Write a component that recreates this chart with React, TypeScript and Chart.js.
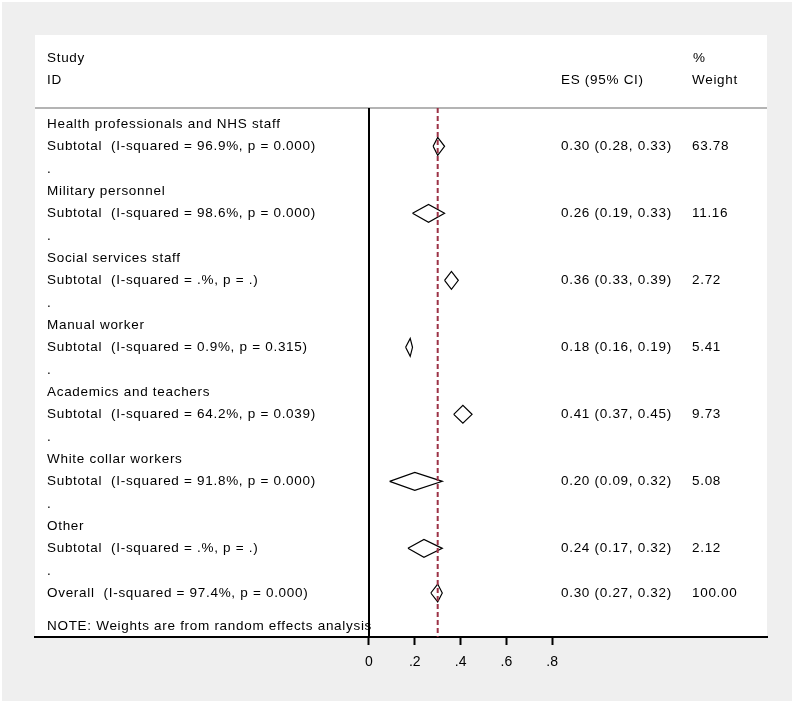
import React, { useEffect, useRef } from "react";
import { Chart, registerables } from "chart.js";

Chart.register(...registerables);

// ---- Data ----
const groups = [
  "Health professionals and NHS staff",
  "Military personnel",
  "Social services staff",
  "Manual worker",
  "Academics and teachers",
  "White collar workers",
  "Other",
];
const iSquared = ["96.9%", "98.6%", ".%", "0.9%", "64.2%", "91.8%", ".%"];
const pValues = ["0.000", "0.000", ".", "0.315", "0.039", "0.000", "."];
const es = [0.3, 0.26, 0.36, 0.18, 0.41, 0.2, 0.24];
const ciLow = [0.28, 0.19, 0.33, 0.16, 0.37, 0.09, 0.17];
const ciHigh = [0.33, 0.33, 0.39, 0.19, 0.45, 0.32, 0.32];
const weights = [63.78, 11.16, 2.72, 5.41, 9.73, 5.08, 2.12];

const overallEs = 0.3;
const overallLow = 0.27;
const overallHigh = 0.32;
const overallWeight = 100.0;
const overallI2 = "97.4%";
const overallP = "0.000";

const xTicks = [0, 0.2, 0.4, 0.6, 0.8];
const noteText = "NOTE: Weights are from random effects analysis";

// ---- Layout helpers (row units on y scale) ----
const ROW_OVERALL = groups.length * 3;
const ROW_NOTE = ROW_OVERALL + 1.48;
const ROW_HEADER1 = -2.96;
const ROW_HEADER2 = -1.97;
const ROW_HEADER_LINE = -0.72;
const Y_MIN = -3.986;
const Y_MAX = 22.97;
const DIAMOND_HALF = 0.4;

const FONT = '13.5px "Liberation Sans"';

function diamond(lo: number, mid: number, hi: number, row: number) {
  return [
    { x: lo, y: row },
    { x: mid, y: row - DIAMOND_HALF },
    { x: hi, y: row },
    { x: mid, y: row + DIAMOND_HALF },
    { x: lo, y: row },
  ];
}

const fmt2 = (v: number) => v.toFixed(2);

export default function App() {
  const ref = useRef<HTMLCanvasElement>(null);

  useEffect(() => {
    const canvas = ref.current;
    if (!canvas) return;

    const bgPlugin = {
      id: "bg",
      beforeDraw(chart: any) {
        const { ctx, chartArea, scales } = chart;
        ctx.save();
        ctx.fillStyle = "#ffffff";
        ctx.fillRect(0, 0, chart.width, chart.height);
        ctx.fillStyle = "#efefef";
        ctx.fillRect(2, 2, 790, 699);
        ctx.fillStyle = "#ffffff";
        ctx.fillRect(
          chartArea.left,
          chartArea.top,
          chartArea.right - chartArea.left,
          chartArea.bottom - chartArea.top
        );
        // header separator line
        const yl = scales.y.getPixelForValue(ROW_HEADER_LINE);
        ctx.strokeStyle = "#b4b4b4";
        ctx.lineWidth = 2;
        ctx.beginPath();
        ctx.moveTo(chartArea.left, yl);
        ctx.lineTo(chartArea.right, yl);
        ctx.stroke();
        ctx.restore();
      },
    };

    const textPlugin = {
      id: "texts",
      beforeDatasetsDraw(chart: any) {
        const { ctx, scales } = chart;
        const y = scales.y;
        const leftX = 47;
        const esX = 561;
        const wX = 692;
        ctx.save();
        ctx.font = FONT;
        try {
          (ctx as any).letterSpacing = "0.7px";
        } catch (e) {}
        ctx.fillStyle = "#000000";
        ctx.textBaseline = "middle";
        ctx.textAlign = "left";
        const put = (t: string, x: number, row: number) =>
          ctx.fillText(t, x, Math.round(y.getPixelForValue(row)) + 0.5);

        put("Study", leftX, ROW_HEADER1);
        put("ID", leftX, ROW_HEADER2);
        put("ES (95% CI)", esX, ROW_HEADER2);
        put("%", wX + 1, ROW_HEADER1);
        put("Weight", wX, ROW_HEADER2);

        groups.forEach((g, i) => {
          const r = i * 3;
          put(g, leftX, r);
          put(
            `Subtotal  (I-squared = ${iSquared[i]}, p = ${pValues[i]})`,
            leftX,
            r + 1
          );
          put(".", leftX, r + 2);
          put(
            `${fmt2(es[i])} (${fmt2(ciLow[i])}, ${fmt2(ciHigh[i])})`,
            esX,
            r + 1
          );
          put(fmt2(weights[i]), wX, r + 1);
        });
        put(
          `Overall  (I-squared = ${overallI2}, p = ${overallP})`,
          leftX,
          ROW_OVERALL
        );
        put(
          `${fmt2(overallEs)} (${fmt2(overallLow)}, ${fmt2(overallHigh)})`,
          esX,
          ROW_OVERALL
        );
        put(fmt2(overallWeight), wX, ROW_OVERALL);
        put(noteText, leftX, ROW_NOTE);
        ctx.restore();
      },
    };

    const diamondSets = groups.map((g, i) => ({
      label: g,
      data: diamond(ciLow[i], es[i], ciHigh[i], i * 3 + 1),
      showLine: true,
      borderColor: "#000000",
      borderWidth: 1.2,
      pointRadius: 0,
      fill: false,
      tension: 0,
    }));

    const chart = new Chart(canvas, {
      type: "scatter",
      data: {
        datasets: [
          {
            label: "null",
            data: [
              { x: 0, y: ROW_HEADER_LINE },
              { x: 0, y: Y_MAX },
            ],
            showLine: true,
            borderColor: "#000000",
            borderWidth: 2,
            pointRadius: 0,
          },
          {
            label: "overall line",
            data: [
              { x: overallEs, y: ROW_HEADER_LINE },
              { x: overallEs, y: Y_MAX },
            ],
            showLine: true,
            borderColor: "#9c3246",
            borderWidth: 2,
            borderDash: [5, 3],
            pointRadius: 0,
          },
          ...diamondSets,
          {
            label: "Overall",
            data: diamond(overallLow, overallEs, overallHigh, ROW_OVERALL),
            showLine: true,
            borderColor: "#000000",
            borderWidth: 1.2,
            pointRadius: 0,
          },
        ] as any,
      },
      options: {
        responsive: false,
        animation: false,
        devicePixelRatio: 1,
        layout: { padding: { left: 35, right: 30, top: 35, bottom: 0 } },
        plugins: {
          legend: { display: false },
          tooltip: { enabled: false },
        },
        scales: {
          x: {
            type: "linear",
            min: -1.4585,
            max: 1.738,
            afterBuildTicks: (scale: any) => {
              scale.ticks = xTicks.map((v) => ({ value: v }));
            },
            afterFit: (scale: any) => {
              scale.height = 69;
            },
            grid: {
              display: true,
              drawOnChartArea: false,
              drawTicks: true,
              tickLength: 8,
              tickWidth: 2,
              tickColor: "#000000",
            },
            border: { display: true, color: "#000000", width: 2 },
            ticks: {
              autoSkip: false,
              maxRotation: 0,
              padding: 9,
              color: "#000000",
              font: { family: "Liberation Sans", size: 14 },
              callback: (v: any) => {
                const n = Number(v);
                if (n === 0) return "0";
                return n.toFixed(1).replace(/^0/, "");
              },
            },
          },
          y: {
            type: "linear",
            display: false,
            reverse: true,
            min: Y_MIN,
            max: Y_MAX,
          },
        },
      } as any,
      plugins: [bgPlugin, textPlugin],
    });

    return () => chart.destroy();
  }, []);

  return (
    <div
      style={{
        position: "fixed",
        left: 0,
        top: 0,
        width: 797,
        height: 706,
      }}
    >
      <canvas
        ref={ref}
        width={797}
        height={706}
        style={{ display: "block", width: 797, height: 706 }}
      />
    </div>
  );
}
